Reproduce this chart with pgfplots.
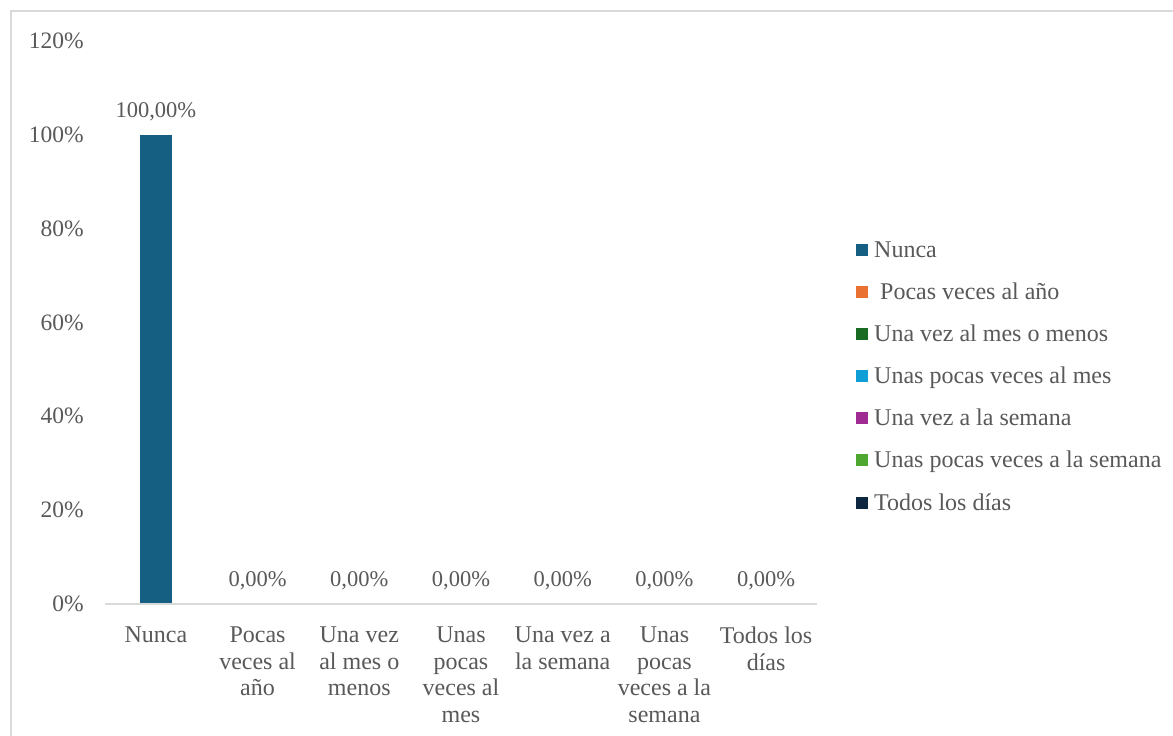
\documentclass[border=0pt]{standalone}
\usepackage{pgfplots}
\pgfplotsset{compat=1.18}
\usepackage{fontspec}
\setmainfont{Liberation Serif}
\definecolor{txt}{HTML}{595959}
\definecolor{axl}{HTML}{D9D9D9}
\definecolor{c1}{HTML}{156082}
\definecolor{c2}{HTML}{E97132}
\definecolor{c3}{HTML}{196B24}
\definecolor{c4}{HTML}{0F9ED5}
\definecolor{c5}{HTML}{A02B93}
\definecolor{c6}{HTML}{4EA72E}
\definecolor{c7}{HTML}{0E2841}
\begin{document}
\begin{tikzpicture}[x=1pt,y=1pt]
\useasboundingbox (0,0) rectangle (1173,736);
\fill[white] (0,0) rectangle (1173,736);
\draw[axl, line width=1.5pt] (11,-5) -- (11,725) -- (1180,725);
\begin{axis}[
  at={(105pt,132pt)}, anchor=south west,
  scale only axis, width=712pt, height=563pt,
  xmin=-0.5, xmax=6.5, ymin=0, ymax=120,
  ybar, bar width=32pt, bar shift=0pt,
  axis on top,
  axis x line*=bottom, axis y line*=left,
  axis line style={axl, line width=2pt},
  x axis line style={-},
  y axis line style={draw=none},
  xtick={0,...,6}, major tick length=0pt,
  xticklabels={Nunca, Pocas\\veces al\\año, Una vez\\al mes o\\menos, Unas\\pocas\\veces al\\mes, Una vez a\\la semana, Unas\\pocas\\veces a la\\semana, Todos los\\días},
  xticklabel style={align=center, inner sep=0pt, yshift=-23pt, font=\fontsize{24}{26.5}\selectfont, text=txt},
  ytick={0,20,...,120},
  yticklabels={0\%,20\%,40\%,60\%,80\%,100\%,120\%},
  yticklabel style={inner sep=0pt, xshift=-21pt, anchor=east, font=\fontsize{23.5}{26}\selectfont, text=txt},
  clip=false,
  nodes near coords={\pgfmathprintnumber[fixed, fixed zerofill, precision=2, use comma, assume math mode=true]{\pgfplotspointmeta}\%},
  every node near coord/.append style={font=\fontsize{22.5}{26}\selectfont, text=txt, inner sep=0pt, yshift=14pt},
  legend style={at={(axis description cs:1.0506,0.404)}, anchor=west, draw=none, fill=none,
    font=\fontsize{24}{27}\selectfont, text=txt, row sep=24pt,
    nodes={inner sep=0pt, anchor=west, text=txt}},
  legend cell align=left,
  legend image code/.code={\fill[#1,draw=none] (0pt,-6pt) rectangle (12pt,6pt);},
]
\addplot[fill=c1, draw=none] coordinates {(0,100)};
\addlegendentry{\hspace{6pt}Nunca}
\addplot[fill=c2, draw=none] coordinates {(1,0)};
\addlegendentry{\hspace{6pt} Pocas veces al año}
\addplot[fill=c3, draw=none] coordinates {(2,0)};
\addlegendentry{\hspace{6pt}Una vez al mes o menos}
\addplot[fill=c4, draw=none] coordinates {(3,0)};
\addlegendentry{\hspace{6pt}Unas pocas veces al mes}
\addplot[fill=c5, draw=none] coordinates {(4,0)};
\addlegendentry{\hspace{6pt}Una vez a la semana}
\addplot[fill=c6, draw=none] coordinates {(5,0)};
\addlegendentry{\hspace{6pt}Unas pocas veces a la semana}
\addplot[fill=c7, draw=none] coordinates {(6,0)};
\addlegendentry{\hspace{6pt}Todos los días}
\end{axis}
\end{tikzpicture}
\end{document}
